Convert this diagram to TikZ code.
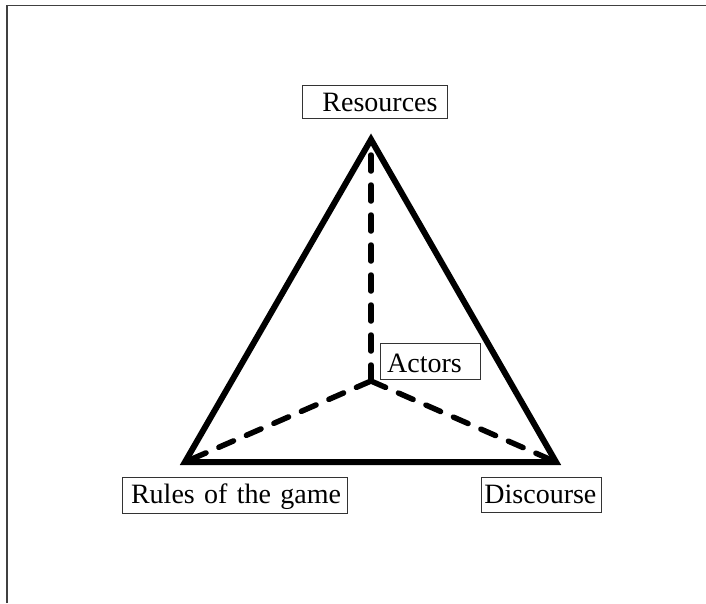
\documentclass[tikz,border=0pt]{standalone}
\usepackage{fontspec}
\setmainfont{Liberation Serif}
\begin{document}
\begin{tikzpicture}[x=1pt,y=-1pt,
  lbl/.style={draw=black!80, line width=0.9pt, inner sep=0pt, align=left,
    font=\fontsize{28}{30}\selectfont, anchor=north west},
  tri/.style={line width=6pt, line join=miter},
  spoke/.style={line width=5.5pt, line cap=round, dash pattern=on 16pt off 14pt}]
\useasboundingbox (0,0) rectangle (706,603);
\draw[line width=1.4pt, black!75] (7,603) -- (7,5.5) -- (706,5.5);
\coordinate (A) at (371,139.5);
\coordinate (L) at (185,462);
\coordinate (R) at (556,462);
\coordinate (C) at (371,381);
\draw[tri] (A) -- (L) -- (R) -- cycle;
\draw[spoke] (C) -- (A);
\draw[spoke] (C) -- (L);
\draw[spoke] (C) -- (R);
\node[lbl, text width=145pt, text height=25.7pt, text depth=7.3pt] (res) at (302,85) {\hspace*{20pt}Resources};
\node[lbl, text width=100.8pt, text height=28.3pt, text depth=6.9pt] (act) at (379.5,343.4) {\hspace*{7.2pt}Actors};
\node[lbl, text width=225.5pt, text height=26.3pt, text depth=9.3pt] (rul) at (121.6,477) {\hspace*{9pt}Rules of the game};
\node[lbl, text width=120pt, text height=26.5pt, text depth=9.3pt] (dis) at (481,476.5) {\hspace*{3pt}Discourse};
\end{tikzpicture}
\end{document}
